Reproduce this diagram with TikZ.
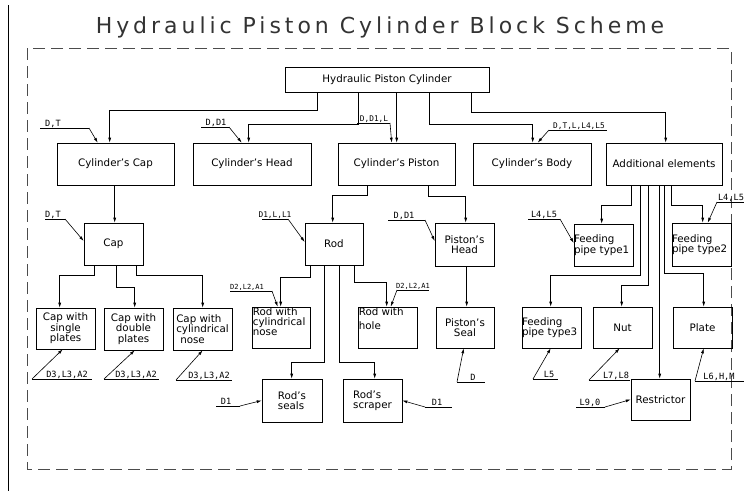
\documentclass[tikz,border=0pt]{standalone}
\usepackage{fontspec}
\setmainfont{DejaVu Sans}
\newfontfamily\lblfont{DejaVu Sans Mono}
\newfontfamily\ttlfont[LetterSpace=18]{DejaVu Sans}
\usetikzlibrary{arrows.meta}
\tikzset{
  bx/.style={draw, line width=0.6pt, inner sep=0pt, font=\fontsize{10.3}{10.5}\selectfont, align=center},
  at4/.style n args={4}{minimum width={#3-#1}, minimum height={#4-#2}, at={({(#1+#3)/2},{(#2+#4)/2})}},
  conn/.style={line width=0.6pt, -{Latex[length=5pt,width=3pt]}},
  lbl/.style={font=\lblfont\fontsize{8.6}{8.6}\selectfont, inner sep=0pt, anchor=base},
  small/.style={font=\lblfont\fontsize{7}{7}\selectfont},
  mid/.style={font=\lblfont\fontsize{7.8}{7.8}\selectfont},
  ul/.style={line width=0.6pt},
  tl/.style={anchor=north west, inner sep=1pt, align=left, label distance=0pt, font=\fontsize{10.3}{9.8}\selectfont},
  tlb/.style={anchor=north west, inner sep=1pt, align=left, label distance=0pt, font=\fontsize{10.3}{13.5}\selectfont},
}
% label with underline: [opts]{name}{text}{text x}{underline x1}{underline x2}{underline y}
\newcommand\ldr[7][]{%
  \node[lbl,#1] (#2) at ({#4},{#7-2}) {#3};%
  \coordinate (#2a) at (#5,#7); \coordinate (#2b) at (#6,#7);%
  \draw[ul] (#2a) -- (#2b);}
\begin{document}
\begin{tikzpicture}[x=1pt,y=-1pt]
\useasboundingbox (0,0) rectangle (744,491);
% frame
\draw[line width=0.6pt] (8,5) -- (8,491);
\draw[line width=0.6pt, black!70, dash pattern=on 12pt off 6pt] (27,48) rectangle (731,469);
\node[font=\ttlfont\fontsize{22}{22}\selectfont, text=black!80, anchor=base, inner sep=0pt] (title) at (380,33) {Hydraulic Piston Cylinder Block Scheme};

% boxes
\node[bx, at4={285}{67}{489}{92}] (top) {Hydraulic Piston Cylinder};
\node[bx, at4={57}{143}{174}{185}] (ccap) {Cylinder's Cap};
\node[bx, at4={193}{143}{311}{185}] (chead) {Cylinder's Head};
\node[bx, at4={338}{143}{455}{185}] (cpist) {Cylinder's Piston};
\node[bx, at4={473}{143}{591}{185}] (cbody) {Cylinder's Body};
\node[bx, at4={606}{143}{722}{185}] (cadd) {Additional elements};
\node[bx, at4={84}{223}{143}{265}] (cap) {Cap};
\node[bx, at4={305}{223}{363}{265}] (rod) {Rod};
\node[bx, at4={435}{223}{494}{266}] (phead) {Piston's\\Head};
\node[bx, at4={574}{224}{633}{266}, text width=59pt, align=left] (fp1) {Feeding\\pipe type1};
\node[bx, at4={672}{223}{731}{266}, text width=59pt, align=left] (fp2) {Feeding\\pipe type2};
\node[bx, at4={36}{308}{95}{349}] (csingle) {Cap with\\single\\plates};
\node[bx, at4={104}{308}{163}{350}] (cdouble) {Cap with\\double\\plates};
\node[bx, at4={173}{308}{232}{350}, align=left] (ccyl) {Cap with\\cylindrical\\\hspace*{4pt}nose};
\node[bx, at4={252}{307}{310}{348}, label={[tl]north west:Rod with\\cylindrical\\nose}] (rcyl) {};
\node[bx, at4={358}{307}{417}{348}, label={[tlb]north west:Rod with\\hole}] (rhole) {};
\node[bx, at4={436}{307}{494}{348}] (pseal) {Piston's\\Seal};
\node[bx, at4={522}{307}{581}{348}, text width=59pt, align=left] (fp3) {Feeding\\pipe type3};
\node[bx, at4={593}{307}{652}{348}] (nut) {Nut};
\node[bx, at4={673}{307}{732}{348}] (plate) {Plate};
\node[bx, at4={262}{379}{322}{422}, align=left] (rseals) {Rod's\\seals};
\node[bx, at4={343}{379}{402}{422}, align=left] (rscraper) {Rod's\\scraper};
\node[bx, at4={631}{379}{690}{420}] (restr) {Restrictor};

% tree connectors
\draw[conn] ([xshift=33pt]top.south west) -- ++(0,18) -| ([xshift=53pt]ccap.north west);
\draw[conn] ([xshift=74pt]top.south west) -- ++(0,32) -| ([xshift=56pt]chead.north west);
\draw[conn] ([xshift=112pt]top.south west) -- ([xshift=59pt]cpist.north west);
\draw[conn] ([xshift=145pt]top.south west) -- ++(0,32) -| ([xshift=60pt]cbody.north west);
\draw[conn] ([xshift=187pt]top.south west) -- ++(0,20) -| ([xshift=60pt]cadd.north west);
\draw[conn] ([xshift=58pt]ccap.south west) -- ([xshift=31pt]cap.north west);
\draw[conn] ([xshift=11pt]cap.south west) -- ++(0,10) -| ([xshift=24pt]csingle.north west);
\draw[conn] ([xshift=33pt]cap.south west) -- ++(0,22) -| ([xshift=31pt]cdouble.north west);
\draw[conn] ([xshift=53pt]cap.south west) -- ++(0,10) -| ([xshift=30pt]ccyl.north west);
\draw[conn] ([xshift=30pt]cpist.south west) -- ++(0,10) -| ([xshift=28pt]rod.north west);
\draw[conn] ([xshift=91pt]cpist.south west) -- ++(0,11) -| ([xshift=31pt]phead.north west);
\draw[conn] ([xshift=6pt]rod.south west) -- ++(0,12) -| ([xshift=29pt]rcyl.north west);
\draw[conn] ([xshift=20pt]rod.south west) -- ++(0,97) -| ([xshift=30pt]rseals.north west);
\draw[conn] ([xshift=35pt]rod.south west) -- ++(0,97) -| ([xshift=32pt]rscraper.north west);
\draw[conn] ([xshift=50pt]rod.south west) -- ++(0,17) -| ([xshift=29pt]rhole.north west);
\draw[conn] ([xshift=32pt]phead.south west) -- ([xshift=31pt]pseal.north west);
\draw[conn] ([xshift=26pt]cadd.south west) -- ++(0,20) -| ([xshift=28pt]fp1.north west);
\draw[conn] ([xshift=66pt]cadd.south west) -- ++(0,20) -| ([xshift=31pt]fp2.north west);
\draw[conn] ([xshift=35pt]cadd.south west) -- ++(0,90) -| ([xshift=29pt]fp3.north west);
\draw[conn] ([xshift=43pt]cadd.south west) -- ++(0,100) -| ([xshift=29pt]nut.north west);
\draw[conn] ([xshift=54pt]cadd.south west) -- ([xshift=29pt]restr.north west);
\draw[conn] ([xshift=59pt]cadd.south west) -- ++(0,88) -| ([xshift=31pt]plate.north west);

% dimension labels with leaders
\ldr{l1}{D,T}{53}{40}{89}{128}
\draw[conn] (l1b) -- ([xshift=41pt]ccap.north west);
\ldr{l2}{D,D1}{216}{201}{229}{127}
\draw[conn] (l2b) -- ([xshift=49pt]chead.north west);
\ldr[mid]{l3}{D,D1,L}{374}{357}{390}{123}
\draw[conn] (l3b) -- ([xshift=54pt]cpist.north west);
\ldr[mid]{l4}{D,T,L,L4,L5}{579}{549}{607}{130}
\draw[conn] (l4a) -- ([xshift=65pt]cbody.north west);
\ldr{l5}{D,T}{53}{45}{65}{219}
\draw[conn] (l5b) -- ([yshift=3pt]cap.west);
\ldr[mid]{l6}{D1,L,L1}{275}{262}{288}{219}
\draw[conn] (l6b) -- ([yshift=2pt]rod.west);
\ldr{l7}{D,D1}{404}{388}{425}{220}
\draw[conn] (l7b) -- ([yshift=3.5pt]phead.west);
\ldr{l8}{L4,L5}{544}{528}{560}{219}
\draw[conn] (l8b) -- ([yshift=2pt]fp1.west);
\ldr{l9}{L4,L5}{731}{717}{744}{202}
\draw[conn] (l9a) -- ([xshift=36pt]fp2.north west);
\ldr[small]{l10}{D2,L2,A1}{247}{230}{272}{291}
\draw[conn] (l10b) -- ([xshift=26pt]rcyl.north west);
\ldr[small]{l11}{D2,L2,A1}{413}{397}{429}{290}
\draw[conn] (l11a) -- ([xshift=33pt]rhole.north west);
\ldr{l12}{D3,L3,A2}{67}{32}{92}{379}
\draw[conn] (l12a) -- ([xshift=27pt]csingle.south west);
\ldr{l13}{D3,L3,A2}{136}{104}{159}{379}
\draw[conn] (l13a) -- ([xshift=31pt]cdouble.south west);
\ldr{l14}{D3,L3,A2}{209}{176}{232}{380}
\draw[conn] (l14a) -- ([xshift=30pt]ccyl.south west);
\ldr{l15}{D}{473}{457}{485}{382}
\draw[conn] (l15a) -- ([xshift=28pt]pseal.south west);
\ldr{l16}{D1}{226}{216}{240}{406}
\draw[conn] (l16b) -- (rseals.west);
\ldr{l17}{D1}{437}{425}{452}{407}
\draw[conn] (l17a) -- (rscraper.east);
\ldr{l18}{L5}{549}{533}{558}{379}
\draw[conn] (l18a) -- ([xshift=29pt]fp3.south west);
\ldr{l19}{L7,L8}{616}{589}{630}{380}
\draw[conn] (l19a) -- ([xshift=27pt]nut.south west);
\ldr{l20}{L6,H,M}{719}{695}{744}{381}
\draw[conn] (l20a) -- ([xshift=31pt]plate.south west);
\ldr{l21}{L9,0}{590}{576}{605}{407}
\draw[conn] (l21b) -- (restr.west);
\end{tikzpicture}
\end{document}
